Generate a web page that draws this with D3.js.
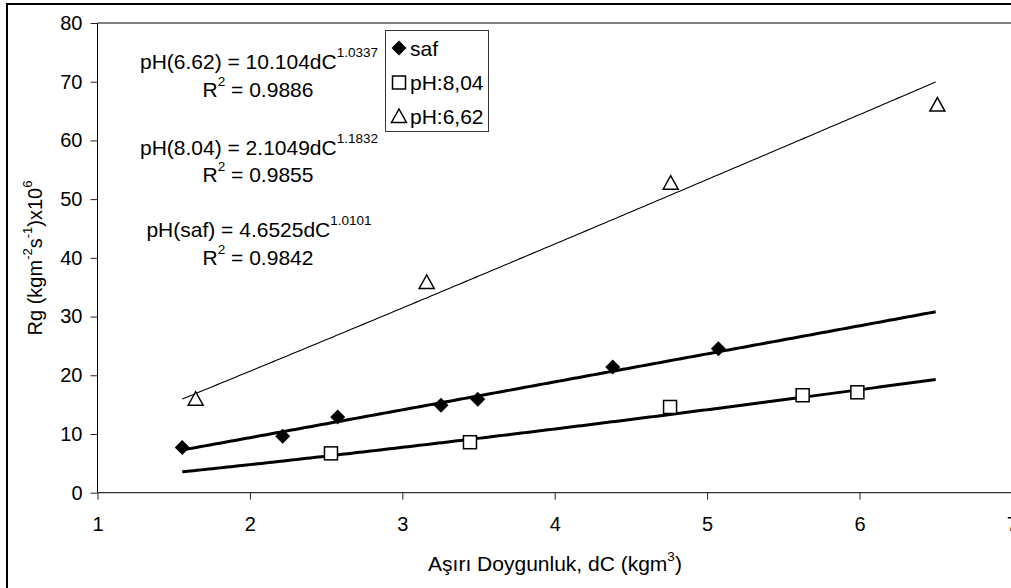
<!DOCTYPE html>
<html><head><meta charset="utf-8">
<script src="https://cdn.jsdelivr.net/npm/d3@7"></script>
<style>
html,body{margin:0;padding:0;background:#fff;}
svg text{font-family:"Liberation Sans",Arial,sans-serif;fill:#000;}
</style></head>
<body><svg id="c" width="1011" height="588"></svg>
<script>
// ---- data ----
const safX   = [1.556, 2.215, 2.576, 3.254, 3.495, 4.381, 5.074];
const safY   = [7.7, 9.6, 12.9, 14.9, 15.9, 21.4, 24.5];
const ph804X = [2.532, 3.444, 4.757, 5.627, 5.986];
const ph804Y = [6.7, 8.6, 14.6, 16.6, 17.1];
const ph662X = [1.644, 3.160, 4.761, 6.511];
const ph662Y = [16.0, 35.9, 52.8, 66.1];
const seriesNames = ["saf", "pH:8,04", "pH:6,62"];
// power trendlines y = a * x^b (coefficients printed on the chart)
const fitA = [4.6525, 2.1049, 10.104];
const fitB = [1.0101, 1.1832, 1.0337];
const fitR2 = ["0.9842", "0.9855", "0.9886"];
const fitLabel = ["pH(saf)", "pH(8.04)", "pH(6.62)"];
const fitRange = [1.556, 6.5];
const xTicks = [1, 2, 3, 4, 5, 6, 7];
const yTicks = [0, 10, 20, 30, 40, 50, 60, 70, 80];

const svg = d3.select("#c");
svg.append("rect").attr("width",1011).attr("height",588).attr("fill","#fff");
// outer chart border
svg.append("rect").attr("x",7).attr("y",4).attr("width",1030).attr("height",620)
  .attr("fill","none").attr("stroke","#000").attr("stroke-width",2);

const x = d3.scaleLinear().domain([1,7]).range([97.5,1011.9]);
const y = d3.scaleLinear().domain([0,80]).range([492.7,23]);

// plot area top border
svg.append("line").attr("x1",x(1)).attr("x2",1011).attr("y1",y(80)).attr("y2",y(80))
  .attr("stroke","#000").attr("stroke-width",1);

const FS = 21, TFS = 20;
// axes
const ya = svg.append("g").attr("transform",`translate(${x(1)},0)`)
  .call(d3.axisLeft(y).tickValues(yTicks).tickSize(7).tickPadding(8).tickFormat(d3.format("d")));
const xa = svg.append("g").attr("transform",`translate(0,${y(0)})`)
  .call(d3.axisBottom(x).tickValues(xTicks).tickSize(7).tickPadding(17).tickFormat(d3.format("d")));
[ya,xa].forEach(g=>{
  g.select(".domain").attr("stroke","#000").attr("stroke-width",1);
  g.selectAll(".tick line").attr("stroke","#222");
  g.selectAll(".tick text").attr("font-size",TFS).attr("font-family","Liberation Sans, Arial, sans-serif").attr("fill","#000");
});
xa.select(".domain").attr("d",`M${x(1)},0H1011`);
ya.select(".domain").attr("d",`M0,${y(0)}V${y(80)}`);

// trendlines
const line = d3.line().x(d=>x(d[0])).y(d=>y(d[1]));
const widths = [3,3,1.1];
for (let i=0;i<3;i++){
  const pts = d3.range(0,201).map(k=>{
    const xv = fitRange[0] + (fitRange[1]-fitRange[0])*k/200;
    return [xv, fitA[i]*Math.pow(xv, fitB[i])];
  });
  svg.append("path").attr("d",line(pts)).attr("fill","none")
    .attr("stroke","#000").attr("stroke-width",widths[i]).attr("stroke-linejoin","round");
}

// markers
function diamond(g,cx,cy){ g.append("path").attr("d",`M${cx},${cy-7.5}L${cx+7.5},${cy}L${cx},${cy+7.5}L${cx-7.5},${cy}Z`).attr("fill","#000"); }
function square(g,cx,cy){ g.append("rect").attr("x",cx-6.5).attr("y",cy-6.5).attr("width",13).attr("height",13).attr("fill","#fff").attr("stroke","#000").attr("stroke-width",1.5); }
function triangle(g,cx,cy){ g.append("path").attr("d",`M${cx},${cy-7}L${cx+7.5},${cy+6.5}L${cx-7.5},${cy+6.5}Z`).attr("fill","#fff").attr("stroke","#000").attr("stroke-width",1.5).attr("stroke-linejoin","miter"); }
const mk = svg.append("g");
safX.forEach((v,i)=>diamond(mk,x(v),y(safY[i])));
ph804X.forEach((v,i)=>square(mk,x(v),y(ph804Y[i])));
ph662X.forEach((v,i)=>triangle(mk,x(v),y(ph662Y[i])));

// legend
const lg = svg.append("g");
lg.append("rect").attr("x",385.5).attr("y",30.5).attr("width",103).attr("height",101)
  .attr("fill","#fff").attr("stroke","#333").attr("stroke-width",1);
const lgY = [48, 82.5, 116];
const makers = [diamond, square, triangle];
seriesNames.forEach((n,i)=>{
  makers[i](lg,399,lgY[i]);
  lg.append("text").attr("x",410).attr("y",lgY[i]).attr("dy","0.36em").attr("font-size",FS).text(n);
});

// equations
const eqBase = [[237,265],[155,182],[69,97]];
for (let i=2;i>=0;i--){
  const t = svg.append("text").attr("x",259).attr("y",eqBase[i][0]).attr("text-anchor","middle").attr("font-size",FS);
  t.append("tspan").text(`${fitLabel[i]} = ${fitA[i]}dC`);
  t.append("tspan").attr("dy",-12).attr("font-size",13.5).text(fitB[i].toFixed(4));
  const r = svg.append("text").attr("x",258).attr("y",eqBase[i][1]).attr("text-anchor","middle").attr("font-size",FS);
  r.append("tspan").text("R");
  r.append("tspan").attr("dy",-11).attr("font-size",13.5).text("2");
  r.append("tspan").attr("dy",11).text(` = ${fitR2[i]}`);
}

// axis titles
const yt = svg.append("text").attr("transform","translate(42,258) rotate(-90)").attr("text-anchor","middle").attr("font-size",TFS);
yt.append("tspan").text("Rg (kgm");
yt.append("tspan").attr("dy",-10).attr("font-size",13).text("-2");
yt.append("tspan").attr("dy",10).text("s");
yt.append("tspan").attr("dy",-10).attr("font-size",13).text("-1");
yt.append("tspan").attr("dy",10).text(")x10");
yt.append("tspan").attr("dy",-10).attr("font-size",13).text("6");

const xt = svg.append("text").attr("x",555).attr("y",571).attr("text-anchor","middle").attr("font-size",FS);
xt.append("tspan").text("Aşırı Doygunluk, dC (kgm");
xt.append("tspan").attr("dy",-10).attr("font-size",13.5).text("3");
xt.append("tspan").attr("dy",10).text(")");
</script></body></html>
